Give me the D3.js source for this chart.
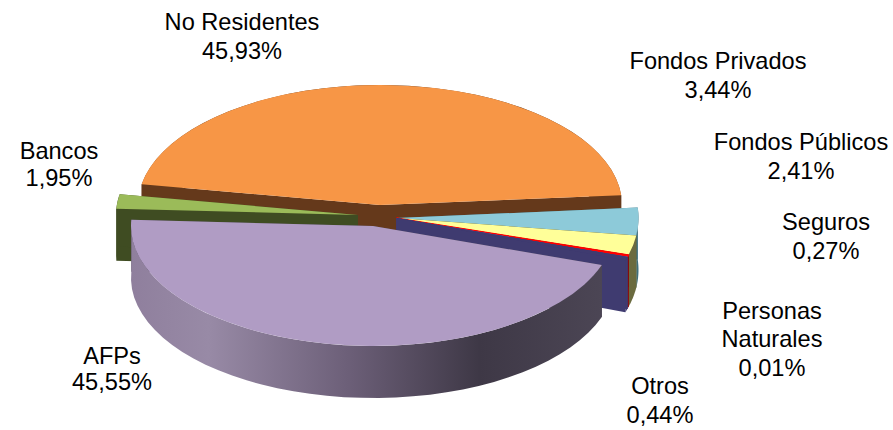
<!DOCTYPE html>
<html>
<head>
<meta charset="utf-8">
<script src="https://d3js.org/d3.v7.min.js"></script>
<style>
  html, body { margin: 0; padding: 0; background: #fff; }
  text { font-family: "Liberation Sans", Arial, sans-serif; font-size: 23.6px; fill: #000; text-anchor: middle; }
</style>
</head>
<body>
<div id="chart"></div>
<script>
// Data, clockwise from the orange slice
var categories = ["No Residentes", "Fondos Privados", "Fondos Públicos", "Seguros", "Personas Naturales", "Otros", "AFPs", "Bancos"];
var shares = [45.93, 3.44, 2.41, 0.27, 0.01, 0.44, 45.55, 1.95];
var shareLabels = ["45,93%", "3,44%", "2,41%", "0,27%", "0,01%", "0,44%", "45,55%", "1,95%"];

// Colours per slice
var topColors = ["#f79646", "#8dcad9", "#ffff99", "#ff0000", "#8080ff", "#3f3b70", "#b09cc4", "#9bbb59"];
var faceColors = ["#65391b", "#3f6f7c", "#6b6b3f", "#8b0000", "#404080", "#3f3b70", "#4a4452", "#3f4c22"];

var svgWidth = 893;
var svgHeight = 430;

var rx = 242;
var ry = 120;
var smallRy = 130; // the small slices look a bit steeper in the reference
var depth = 52;
var pieStart = -80 * Math.PI / 180; // pie is turned so the orange slice sits on top

// each slice is pulled out of the pie a bit differently
var centers = {
  "No Residentes": [380, 205],
  "Bancos": [358, 215],
  "AFPs": [373, 226]
};
var smallCenter = [396.5, 218];

// label anchors, one line each
var labelPos = {
  "No Residentes": [[242, 30], [242, 59]],
  "Fondos Privados": [[718, 69], [718, 98]],
  "Fondos Públicos": [[801, 150], [801, 179]],
  "Seguros": [[826, 230], [826, 259]],
  "Personas Naturales": [[772, 319], [772, 347], [772, 376]],
  "Otros": [[660, 394], [660, 423]],
  "AFPs": [[112, 364], [112, 390]],
  "Bancos": [[59, 159], [59, 186]]
};

var svg = d3.select("#chart")
  .append("svg")
  .attr("width", svgWidth)
  .attr("height", svgHeight);

var defs = svg.append("defs");
var wallGrad = defs.append("linearGradient")
  .attr("id", "purpleWall")
  .attr("gradientUnits", "userSpaceOnUse")
  .attr("x1", 131).attr("x2", 615).attr("y1", 0).attr("y2", 0);
[[0, "#8f7f9d"], [0.16, "#988aa6"], [0.45, "#6c5f78"], [0.72, "#3e3846"], [1, "#4d4756"]].forEach(function(s) {
  wallGrad.append("stop").attr("offset", s[0]).attr("stop-color", s[1]);
});

var pie = d3.pie().sort(null).startAngle(pieStart).endAngle(pieStart + 2 * Math.PI);
var arcs = pie(shares);
var line = d3.line();
var arc = d3.arc().innerRadius(0).outerRadius(rx);

function drawSlice(i) {
  var name = categories[i];
  var d = arcs[i];
  var c = centers[name] || smallCenter;
  var sliceRy = centers[name] ? ry : smallRy;
  var g = svg.append("g").attr("class", "slice");
  var face = name == "AFPs" ? "url(#purpleWall)" : faceColors[i];

  function pointAt(a, drop) {
    return [c[0] + rx * Math.sin(a), c[1] - sliceRy * Math.cos(a) + drop];
  }

  // two cut faces
  [d.startAngle, d.endAngle].forEach(function(a) {
    g.append("path")
      .attr("d", line([c, pointAt(a, 0), pointAt(a, depth), [c[0], c[1] + depth]]) + "Z")
      .attr("fill", faceColors[i]);
  });

  // outer wall
  var steps = d3.range(0, 41).map(function(k) { return d.startAngle + (d.endAngle - d.startAngle) * k / 40; });
  var upper = steps.map(function(a) { return pointAt(a, 0); });
  var lower = steps.map(function(a) { return pointAt(a, depth); }).reverse();
  g.append("path")
    .attr("d", line(upper.concat(lower)) + "Z")
    .attr("fill", face);

  // top surface
  var top = g.append("path")
    .attr("transform", "translate(" + c[0] + "," + c[1] + ") scale(1," + (sliceRy / rx) + ")")
    .attr("d", arc(d))
    .attr("fill", topColors[i]);

  // the red sliver is too thin to show on its own
  if (name == "Seguros") {
    top.attr("stroke", topColors[i]).attr("stroke-width", 1.6);
  }
}

// back to front
[0, 7, 1, 2, 3, 4, 5, 6].forEach(drawSlice);

// labels
categories.forEach(function(name, i) {
  var lines = name == "Personas Naturales" ? ["Personas", "Naturales"] : [name];
  lines.push(shareLabels[i]);
  lines.forEach(function(t, k) {
    svg.append("text")
      .attr("x", labelPos[name][k][0])
      .attr("y", labelPos[name][k][1])
      .text(t);
  });
});
</script>
</body>
</html>
